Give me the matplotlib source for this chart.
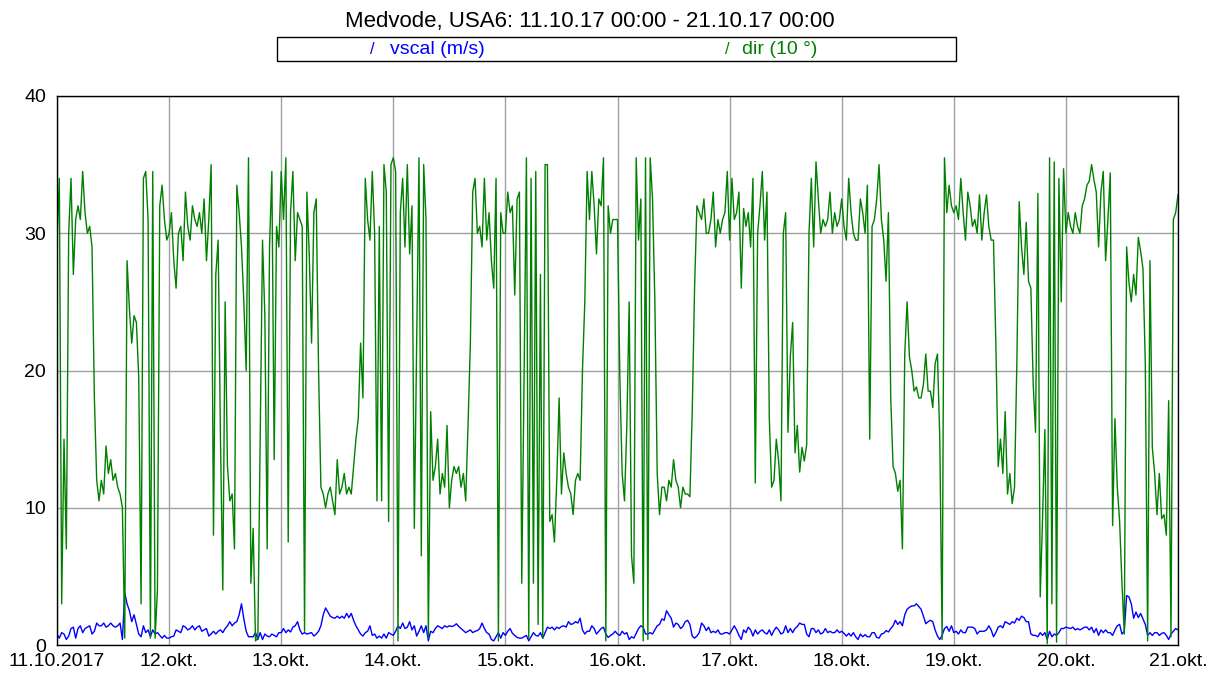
import pandas as pd
import matplotlib
matplotlib.use("Agg")
import matplotlib.pyplot as plt
from matplotlib.patches import Rectangle

plt.rcParams['font.family'] = ['Liberation Sans', 'DejaVu Sans']

title = "Medvode, USA6: 11.10.17 00:00 - 21.10.17 00:00"
series_names = ["vscal (m/s)", "dir (10 °)"]
tick_labels = ["11.10.2017", "12.okt.", "13.okt.", "14.okt.", "15.okt.", "16.okt.",
               "17.okt.", "18.okt.", "19.okt.", "20.okt.", "21.okt."]
y_ticks = [0, 10, 20, 30, 40]

# dir (10 deg), half-hourly, one list per day
dir_d0 = [29.5, 34, 3, 15, 7, 30, 34, 27, 31, 32, 31, 34.5, 31.5, 30, 30.5, 29, 18, 12, 10.5, 12, 11, 14.5, 12.5, 13.5,
          12, 12.5, 11.5, 11, 10, 0.5, 28, 24.5, 22, 24, 23.5, 19.5, 3, 34, 34.5, 31, 0.5, 34.5, 0.5, 4, 32, 33.5, 31, 29.5]
dir_d1 = [30, 31.5, 28, 26, 30, 30.5, 28, 33, 30.5, 29.5, 32, 31, 30.5, 31.5, 30, 32.5, 28, 31, 35, 8, 27, 29.5, 15, 4,
          25, 13, 10.5, 11, 7, 33.5, 31.5, 29, 25, 20, 35.5, 4.5, 8.5, 0.3, 0.5, 15, 29.5, 24, 7, 29, 34.5, 13.5, 30.5, 29]
dir_d2 = [34.5, 31, 35.5, 7.5, 31.5, 34.5, 28, 31.5, 31, 30.5, 1, 33, 28.5, 22, 31.5, 32.5, 20, 11.5, 11, 10, 11, 11.5, 10.5, 9.5,
          13.5, 11, 11.5, 12.5, 11, 11.5, 11, 13, 15, 16.5, 22, 18, 34, 31, 29.5, 34.5, 30, 10.5, 30.5, 10.5, 35, 33, 9, 35]
dir_d3 = [35.5, 34.5, 0.3, 31.5, 34, 29, 35, 28.5, 32, 8.5, 22, 35.5, 6.5, 35, 31, 0.5, 17, 12, 13, 15, 11, 12.5, 11.5, 16,
          10, 12, 13, 12.5, 13, 11.5, 12.5, 10.5, 16, 22, 33, 34, 30, 30.5, 29, 34, 29.5, 31.5, 28, 26, 34, 0.3, 31.5, 30]
dir_d4 = [30, 33, 31.5, 32, 25.5, 32.5, 33, 4.5, 19.5, 35.5, 0.5, 34, 4.5, 34.5, 1.5, 27, 0.5, 35, 35, 9, 9.5, 7.5, 12, 18,
          11, 14, 12.5, 11.5, 11, 9.5, 12, 12.5, 12, 20, 25, 34.5, 31, 34.5, 32, 28.5, 32.5, 32, 35.5, 0.3, 32, 30, 31, 31]
dir_d5 = [31, 19.5, 12.5, 10.5, 16, 25, 6.5, 4.5, 35.5, 29.5, 32.5, 0.3, 35.5, 0.4, 35.5, 32.5, 25, 12.5, 9.5, 11.5, 11.5, 10.5, 12, 11.5,
          13.5, 12, 11.5, 10, 11.5, 11, 11, 10.8, 17, 26, 32, 31.5, 31, 32.5, 30, 30, 31, 33, 29, 31, 30, 31, 31.5, 34.5]
dir_d6 = [29.5, 34, 31, 31.5, 33, 26, 31.8, 30.5, 31.5, 29, 34, 11.8, 30, 32, 34.5, 29.5, 33, 16.5, 11.5, 12, 15, 13.4, 10.5, 30,
          31.5, 15.5, 21, 23.5, 14, 16, 12.6, 14.4, 13.4, 14.6, 30, 34, 29, 35.2, 32.5, 30, 31, 30.5, 31, 33, 30, 31.5, 30.5, 31]
dir_d7 = [32.5, 30.5, 29.5, 34, 31.5, 30, 29.5, 29.5, 32.5, 31.5, 30, 33.5, 15, 30.5, 31, 32.5, 35, 31, 29.5, 26.5, 31.5, 18, 13, 12.5,
          11.2, 12, 7, 21.2, 25, 21, 20, 18.5, 18.8, 18, 18, 19, 21.2, 18.5, 18.5, 17.3, 20.5, 21.2, 15, 0.4, 35.5, 31.5, 33.5, 32]
dir_d8 = [31.5, 32, 31, 34, 31.5, 29.5, 33, 32, 30.5, 31, 30, 32.8, 29.5, 31.5, 32.8, 30.5, 29.5, 29.5, 22, 13, 15, 12.5, 17, 11,
          12.5, 10.3, 11.5, 20.6, 32.3, 29, 27, 30.8, 26.5, 26, 19, 15.5, 32.9, 3.5, 9.2, 15.7, 0.1, 35.5, 3, 35.2, 0.2, 34, 25, 34.7]
dir_d9 = [30, 31.5, 30.5, 30, 31.5, 30.5, 30, 32, 32.5, 33.5, 33.8, 35, 33.9, 33, 29, 33, 34.5, 28, 31, 34.4, 8.7, 16.5, 11.5, 9,
          4.5, 0.8, 29, 26.4, 25, 27, 25.5, 29.7, 28.7, 27.4, 20.5, 0.3, 28, 14.4, 12.5, 9.5, 12.5, 9.2, 9.5, 8, 17.8, 0.6, 31, 31.5,
          32.8]

# vscal (m/s), half-hourly, one list per day
vs_d0 = [0.8, 0.5, 0.9, 0.8, 0.4, 0.65, 1.2, 1.3, 0.5, 1.2, 1.4, 0.9, 1.2, 1.3, 1.4, 0.8, 1.0, 1.6, 1.4, 1.4, 1.6, 1.3, 1.4, 1.6,
         1.4, 1.3, 1.4, 1.6, 0.4, 3.8, 3.0, 2.5, 1.7, 2.2, 1.5, 0.8, 0.6, 1.4, 0.9, 1.1, 0.6, 1.1, 0.8, 0.9, 0.7, 0.5, 0.7, 0.5]
vs_d1 = [0.5, 0.6, 0.65, 1.1, 1.0, 0.9, 1.4, 1.3, 1.1, 1.2, 1.4, 1.1, 1.3, 1.4, 1.0, 1.1, 1.2, 0.65, 0.8, 1.0, 0.8, 1.0, 1.1, 0.9,
         1.2, 1.4, 1.7, 1.4, 1.6, 1.7, 2.2, 3.0, 1.9, 1.0, 0.6, 0.6, 0.6, 0.9, 0.4, 0.9, 0.4, 0.8, 0.65, 0.6, 0.8, 0.7, 0.6, 0.9]
vs_d2 = [0.9, 1.2, 0.9, 1.1, 0.95, 1.3, 1.4, 1.7, 1.1, 0.8, 0.9, 0.8, 0.85, 0.9, 0.65, 0.8, 1.0, 1.4, 2.2, 2.7, 2.4, 2.1, 2.0, 1.95,
         2.1, 1.95, 2.1, 1.95, 2.3, 2.0, 2.3, 1.8, 1.4, 1.1, 0.8, 0.65, 0.9, 1.0, 1.4, 0.7, 0.8, 0.5, 0.65, 0.5, 0.8, 0.5, 0.9, 0.8]
vs_d3 = [0.7, 1.0, 1.4, 1.2, 1.6, 1.2, 1.3, 1.7, 1.1, 1.4, 0.65, 1.0, 1.4, 0.9, 1.4, 0.3, 1.0, 0.9, 1.2, 1.4, 1.3, 1.2, 1.4, 1.3,
         1.4, 1.35, 1.4, 1.55, 1.35, 1.2, 1.05, 0.9, 1.0, 1.1, 0.9, 1.0, 1.05, 1.2, 1.6, 1.2, 0.9, 0.8, 0.4, 0.3, 0.6, 0.9, 0.5, 0.9]
vs_d4 = [0.7, 1.0, 1.2, 0.85, 0.7, 0.55, 0.5, 0.5, 0.6, 0.7, 0.3, 0.6, 0.9, 0.7, 0.65, 0.9, 0.5, 0.9, 1.3, 1.2, 1.3, 1.1, 1.3, 1.2,
         1.35, 1.4, 1.3, 1.7, 1.5, 1.55, 1.7, 1.6, 1.95, 1.1, 0.8, 1.0, 1.0, 1.4, 1.2, 0.8, 1.0, 1.2, 1.3, 0.8, 0.55, 0.7, 0.8, 1.0]
vs_d5 = [0.8, 0.7, 1.0, 0.8, 0.9, 0.4, 0.6, 0.5, 0.85, 1.2, 1.4, 1.3, 0.8, 0.8, 0.9, 0.8, 1.1, 1.4, 1.5, 1.9, 1.8, 2.5, 2.2, 1.95,
         1.3, 1.6, 1.5, 1.2, 1.35, 1.7, 1.8, 1.5, 0.65, 0.5, 0.65, 0.9, 1.6, 1.4, 1.05, 1.3, 0.9, 1.0, 0.9, 1.1, 0.8, 0.8, 0.9, 0.9]
vs_d6 = [0.8, 1.1, 1.4, 1.1, 0.7, 0.4, 1.1, 0.9, 1.3, 1.1, 0.65, 1.1, 0.8, 1.0, 1.1, 0.9, 0.8, 1.1, 0.7, 1.05, 1.3, 1.1, 0.8, 0.9,
         1.4, 0.9, 1.2, 0.9, 1.2, 1.35, 1.6, 1.5, 1.5, 0.8, 0.6, 1.2, 1.2, 0.9, 1.1, 0.8, 0.9, 1.2, 0.9, 1.0, 0.9, 0.9, 1.1, 0.9]
vs_d7 = [1.0, 0.85, 0.65, 0.85, 0.65, 0.9, 0.6, 0.4, 0.8, 0.6, 0.75, 0.6, 0.6, 0.9, 0.9, 0.55, 0.5, 0.8, 0.85, 1.05, 0.95, 1.2, 1.4, 1.8,
         1.5, 1.7, 1.4, 2.2, 2.6, 2.75, 2.85, 2.85, 3.0, 2.8, 2.6, 2.1, 1.55, 1.7, 1.8, 1.7, 1.1, 0.65, 0.4, 0.7, 1.2, 1.35, 1.0, 1.4]
vs_d8 = [0.9, 1.0, 0.8, 1.1, 0.9, 0.9, 1.3, 1.3, 1.3, 1.2, 0.8, 1.0, 1.0, 1.0, 1.1, 1.4, 1.1, 0.6, 0.9, 1.3, 1.4, 1.25, 1.7, 1.6,
         1.5, 1.7, 1.6, 1.95, 1.8, 2.1, 2.0, 1.7, 1.7, 0.8, 0.7, 0.7, 0.6, 0.9, 0.7, 0.9, 0.4, 1.0, 0.6, 0.8, 0.7, 0.9, 1.2, 1.2]
vs_d9 = [1.3, 1.25, 1.2, 1.3, 1.1, 1.2, 1.1, 1.2, 1.3, 1.3, 1.1, 1.3, 0.9, 1.2, 0.7, 1.1, 0.9, 1.1, 0.9, 0.9, 0.7, 1.1, 1.4, 1.5,
         0.8, 1.0, 3.6, 3.5, 3.0, 1.95, 2.4, 2.0, 2.3, 1.9, 1.5, 0.7, 0.9, 0.7, 0.9, 0.9, 0.7, 0.85, 0.9, 0.7, 0.4, 0.8, 1.0, 1.2,
         1.1]

dir_values = dir_d0 + dir_d1 + dir_d2 + dir_d3 + dir_d4 + dir_d5 + dir_d6 + dir_d7 + dir_d8 + dir_d9
vs_values = vs_d0 + vs_d1 + vs_d2 + vs_d3 + vs_d4 + vs_d5 + vs_d6 + vs_d7 + vs_d8 + vs_d9

t_dir = pd.date_range("2017-10-11", periods=len(dir_values), freq="30min")
t_vs = pd.date_range("2017-10-11", periods=len(vs_values), freq="30min")
days = pd.date_range("2017-10-11", "2017-10-21", freq="D")

W, H = 1207, 679
fig = plt.figure(figsize=(W / 100, H / 100), dpi=100)
ax = fig.add_axes([57 / W, 1 - 645 / H, (1178 - 57) / W, (645 - 96) / H])

ax.plot(t_vs, vs_values, color='#0000ff', lw=1)
ax.plot(t_dir, dir_values, color='#008000', lw=1)

ax.set_xlim(days[0], days[-1])
ax.set_ylim(0, 40)
ax.set_xticks(days)
ax.set_xticklabels(tick_labels)
ax.set_yticks(y_ticks)
ax.set_axisbelow(True)
ax.grid(True, color='#a0a0a0', lw=1)
ax.tick_params(length=0, labelsize=14)
ax.tick_params(axis='y', pad=8)
ax.tick_params(axis='x', pad=6)
for s in ax.spines.values():
    s.set_color('black')
    s.set_linewidth(1)

fig.text(590 / W, 1 - 21 / H, title, ha='center', va='center', fontsize=16)

# legend box
fig.patches.append(Rectangle((277 / W, 1 - 61 / H), (956 - 277) / W, 24 / H,
                             transform=fig.transFigure, fill=False, edgecolor='black', lw=1))
fig.text(372 / W, 1 - 50 / H, "/", color='#0000ff', ha='center', va='center', fontsize=12)
fig.text(390 / W, 1 - 50 / H, series_names[0], color='#0000ff', ha='left', va='center', fontsize=14)
fig.text(727 / W, 1 - 50 / H, "/", color='#008000', ha='center', va='center', fontsize=12)
fig.text(742 / W, 1 - 50 / H, series_names[1], color='#008000', ha='left', va='center', fontsize=14)

fig.savefig("out.png", dpi=100)
